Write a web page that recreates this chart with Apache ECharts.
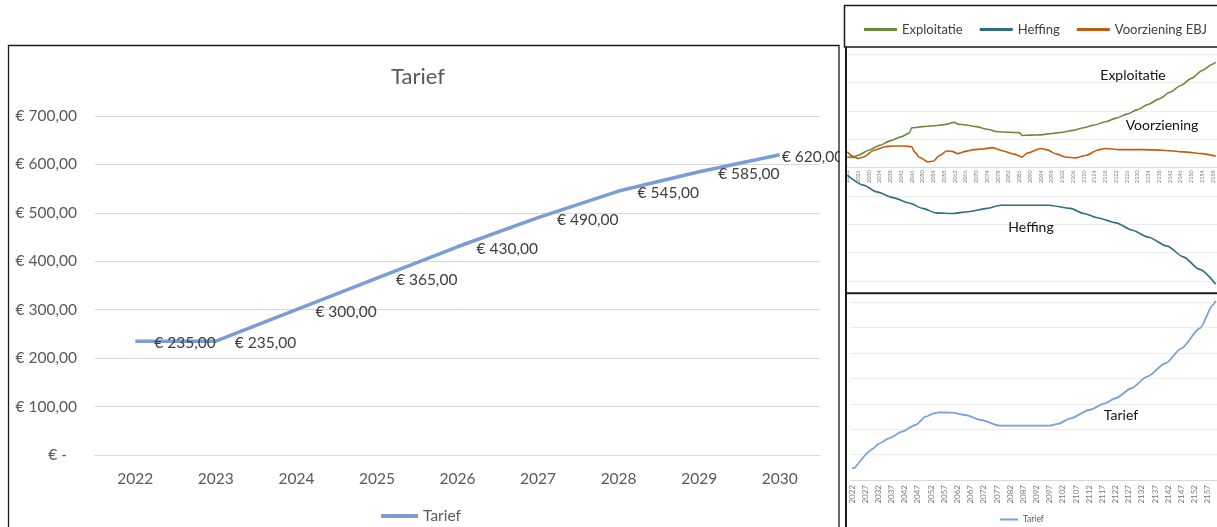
<!DOCTYPE html>
<html>
<head>
<meta charset="utf-8">
<script src="https://cdn.jsdelivr.net/npm/echarts@6/dist/echarts.min.js"></script>
<style>
  html, body { margin: 0; padding: 0; background: #ffffff; }
  #chart { width: 1217px; height: 527px; }
</style>
</head>
<body>
<div id="chart"></div>
<script>
// ---- Tarief 2022-2030 (main chart) ----
const mainYears = ['2022', '2023', '2024', '2025', '2026', '2027', '2028', '2029', '2030'];
const mainTarief = [235, 235, 300, 365, 430, 490, 545, 585, 620];
const mainTicks = [0, 100, 200, 300, 400, 500, 600, 700];

// ---- long-term overview: year / value pairs ----
const exploitatie = [
  [2022, 38], [2024, 35], [2026, 43], [2030, 61], [2034, 78], [2038, 94], [2042, 108],
  [2045, 121], [2046, 140], [2050, 144], [2054, 147], [2058, 151], [2062, 159], [2063, 153],
  [2066, 150], [2070, 144], [2074, 135], [2078, 126], [2082, 124], [2086, 123], [2087, 113],
  [2090, 114], [2094, 115], [2098, 120], [2102, 124], [2106, 131], [2110, 140], [2114, 150],
  [2118, 161], [2122, 174], [2126, 188], [2130, 204], [2134, 223], [2138, 242], [2142, 265],
  [2146, 289], [2150, 314], [2154, 342], [2158, 365], [2159, 371]
];
const heffing = [
  [2022, -27], [2028, -62], [2033, -86], [2039, -106], [2045, -125], [2050, -144], [2055, -160],
  [2061, -162], [2067, -156], [2074, -144], [2079, -133], [2086, -133], [2097, -133], [2105, -144],
  [2110, -162], [2115, -177], [2122, -195], [2128, -221], [2134, -246], [2141, -277], [2147, -315],
  [2153, -359], [2159, -411]
];
const voorziening = [
  [2022, 55], [2024, 40], [2026, 32], [2028, 37], [2032, 61], [2036, 73], [2039, 76], [2043, 76],
  [2046, 73], [2047, 55], [2049, 35], [2052, 20], [2054, 22], [2056, 40], [2059, 58], [2061, 57],
  [2063, 49], [2066, 57], [2069, 63], [2072, 65], [2076, 70], [2080, 58], [2084, 47], [2087, 37],
  [2089, 51], [2094, 67], [2096, 63], [2100, 47], [2103, 37], [2107, 34], [2111, 43], [2115, 61],
  [2118, 67], [2123, 63], [2132, 63], [2139, 61], [2147, 55], [2154, 49], [2159, 40]
];
const tariefLong = [
  [2022, 235], [2023, 235], [2024, 300], [2025, 365], [2026, 430], [2027, 490], [2028, 545],
  [2029, 585], [2030, 620], [2032, 709], [2036, 821], [2041, 951], [2046, 1083], [2050, 1246],
  [2053, 1313], [2055, 1333], [2060, 1325], [2065, 1280], [2071, 1181], [2078, 1069], [2087, 1069],
  [2097, 1069], [2100, 1103], [2105, 1215], [2112, 1378], [2118, 1510], [2122, 1609], [2128, 1806],
  [2134, 2034], [2141, 2298], [2147, 2593], [2154, 2987], [2159, 3446], [2160, 3530]
];

// year categories for the two overview panels
const overviewYears = [];
for (let y = 2022; y <= 2159; y++) overviewYears.push(String(y));
const tariefYears = [];
for (let y = 2022; y <= 2160; y++) tariefYears.push(String(y));

const FONT = 'Lato, "Liberation Sans", sans-serif';
const BLUE = '#7a9dd3';
const GREEN = '#6b8a3b';
const TEAL = '#2c6e80';
const ORANGE = '#c55a11';

function euro(v) {
  return v === 0 ? '€ -' : '€ ' + v.toFixed(2).replace('.', ',');
}
const pairs = arr => arr.map(p => [String(p[0]), p[1]]);

const chart = echarts.init(document.getElementById('chart'), null, { renderer: 'canvas' });

const lastIdx = mainTarief.length - 1;

chart.setOption({
  animation: false,
  textStyle: { fontFamily: FONT },
  grid: [
    { left: 95, top: 116, width: 725, height: 339 },
    { left: 845.9, top: 54, width: 371.1, height: 227 },
    { left: 850.7, top: 302.2, width: 368.4, height: 177.8 }
  ],
  legend: [
    {
      data: ['Tarief'], left: 376, top: 503, icon: 'rect', itemWidth: 37, itemHeight: 4,
      selectedMode: false,
      textStyle: { fontFamily: FONT, fontSize: 15.5, color: '#595959' }
    },
    {
      data: ['Exploitatie', 'Heffing', 'Voorziening EBJ'], left: 859, top: 18, width: 400, icon: 'rect',
      itemWidth: 33, itemHeight: 3, itemGap: 17, selectedMode: false,
      textStyle: { fontFamily: FONT, fontSize: 13, color: '#404040' }
    },
    {
      data: ['Tarief'], left: 995, top: 510, icon: 'rect', itemWidth: 18, itemHeight: 2,
      selectedMode: false,
      textStyle: { fontFamily: FONT, fontSize: 8.5, color: '#595959' }
    }
  ],
  xAxis: [
    {
      gridIndex: 0, type: 'category', data: mainYears, boundaryGap: true,
      axisLine: { lineStyle: { color: '#d9d9d9' } }, axisTick: { show: false },
      axisLabel: { fontFamily: FONT, fontSize: 15.5, color: '#595959', margin: 16 }
    },
    {
      // axis drawn along the zero line of the overview panel
      gridIndex: 1, type: 'category', data: overviewYears, boundaryGap: true, offset: -113.7,
      axisLine: { onZero: false, lineStyle: { color: '#d9d9d9' } }, axisTick: { show: false },
      axisLabel: { interval: 3, rotate: 90, fontFamily: FONT, fontSize: 5.5, color: '#808080', margin: 3 }
    },
    {
      gridIndex: 2, type: 'category', data: tariefYears, boundaryGap: true,
      axisLine: { lineStyle: { color: '#d9d9d9' } }, axisTick: { show: false },
      axisLabel: { interval: 4, rotate: 90, fontFamily: FONT, fontSize: 8, color: '#7a7a7a', margin: 5 }
    }
  ],
  yAxis: [
    {
      gridIndex: 0, type: 'value', min: mainTicks[0], max: mainTicks[mainTicks.length - 1], interval: 100,
      axisLine: { show: false }, axisTick: { show: false },
      splitLine: { lineStyle: { color: '#d9d9d9' } },
      axisLabel: {
        margin: 18, fontFamily: FONT, fontSize: 15.5, color: '#595959',
        formatter: v => v === 0 ? '{z|€ -}' : euro(v),
        rich: { z: { fontFamily: FONT, fontSize: 15.5, color: '#595959', padding: [0, 10, 0, 0] } }
      }
    },
    {
      gridIndex: 1, type: 'value', min: -400, max: 400, interval: 100,
      axisLine: { show: false }, axisTick: { show: false }, axisLabel: { show: false },
      splitLine: { lineStyle: { color: '#ececec' } }
    },
    {
      gridIndex: 2, type: 'value', min: 0, max: 3500, interval: 500,
      axisLine: { show: false }, axisTick: { show: false }, axisLabel: { show: false },
      splitLine: { lineStyle: { color: '#ededed' } }
    }
  ],
  series: [
    {
      name: 'Tarief', type: 'line', xAxisIndex: 0, yAxisIndex: 0,
      data: mainTarief.map((v, i) => i === lastIdx ? { value: v, label: { distance: 2 } } : v),
      symbol: 'circle', symbolSize: 0, showSymbol: true,
      lineStyle: { width: 3.5, color: BLUE }, itemStyle: { color: BLUE },
      label: {
        show: true, position: 'right', distance: 19, offset: [0, 2],
        fontFamily: FONT, fontSize: 15.5, color: '#404040',
        formatter: p => euro(p.value)
      },
      z: 3
    },
    {
      name: 'Exploitatie', type: 'line', xAxisIndex: 1, yAxisIndex: 1, data: pairs(exploitatie),
      symbol: 'none', smooth: 0.25, smoothMonotone: 'x', clip: false,
      lineStyle: { width: 1.6, color: GREEN }, itemStyle: { color: GREEN }
    },
    {
      name: 'Heffing', type: 'line', xAxisIndex: 1, yAxisIndex: 1, data: pairs(heffing),
      symbol: 'none', smooth: 0.25, smoothMonotone: 'x', clip: false,
      lineStyle: { width: 1.6, color: TEAL }, itemStyle: { color: TEAL }
    },
    {
      name: 'Voorziening EBJ', type: 'line', xAxisIndex: 1, yAxisIndex: 1, data: pairs(voorziening),
      symbol: 'none', smooth: 0.25, smoothMonotone: 'x', clip: false,
      lineStyle: { width: 1.6, color: ORANGE }, itemStyle: { color: ORANGE }
    },
    {
      name: 'Tarief', type: 'line', xAxisIndex: 2, yAxisIndex: 2, data: pairs(tariefLong),
      symbol: 'none', smooth: 0.25, smoothMonotone: 'x', clip: false,
      lineStyle: { width: 1.8, color: '#7ba0d6' }, itemStyle: { color: '#7ba0d6' }
    }
  ],
  graphic: [
    // chart title
    {
      type: 'text', x: 418, y: 77, z: 100,
      style: { text: 'Tarief', fontFamily: FONT, fontSize: 22, fill: '#595959', align: 'center', verticalAlign: 'middle' }
    },
    // blank gutter between the main chart and the overview panels
    {
      type: 'rect', z: 99, silent: true,
      shape: { x: 839.6, y: 46, width: 5, height: 481 },
      style: { fill: '#ffffff' }
    },
    // panel frames
    {
      type: 'rect', z: 100, silent: true,
      shape: { x: 8.5, y: 45.5, width: 830.5, height: 520 },
      style: { fill: 'none', stroke: '#1a1a1a', lineWidth: 1.3 }
    },
    {
      type: 'rect', z: 100, silent: true,
      shape: { x: 844.5, y: 5.5, width: 400, height: 41.5 },
      style: { fill: 'none', stroke: '#1a1a1a', lineWidth: 1.5 }
    },
    {
      type: 'line', z: 100, silent: true,
      shape: { x1: 846, y1: 47, x2: 846, y2: 530 },
      style: { stroke: '#1a1a1a', lineWidth: 2 }
    },
    {
      type: 'line', z: 100, silent: true,
      shape: { x1: 845, y1: 293.3, x2: 1220, y2: 293.3 },
      style: { stroke: '#1a1a1a', lineWidth: 2 }
    },
    // line captions inside the overview panels
    {
      type: 'text', x: 1133, y: 75, z: 100,
      style: { text: 'Exploitatie', fontFamily: FONT, fontSize: 14, fill: '#111111', align: 'center', verticalAlign: 'middle' }
    },
    {
      type: 'text', x: 1162, y: 125, z: 100,
      style: { text: 'Voorziening', fontFamily: FONT, fontSize: 14, fill: '#111111', align: 'center', verticalAlign: 'middle' }
    },
    {
      type: 'text', x: 1031, y: 227, z: 100,
      style: { text: 'Heffing', fontFamily: FONT, fontSize: 14, fill: '#111111', align: 'center', verticalAlign: 'middle' }
    },
    {
      type: 'text', x: 1121, y: 415, z: 100,
      style: { text: 'Tarief', fontFamily: FONT, fontSize: 14, fill: '#111111', align: 'center', verticalAlign: 'middle' }
    }
  ]
});
</script>
</body>
</html>
